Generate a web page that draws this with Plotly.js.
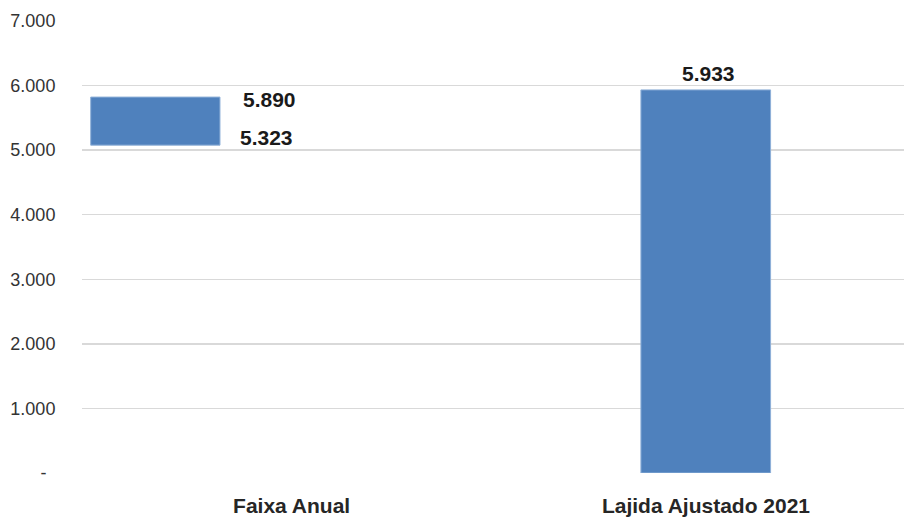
<!DOCTYPE html>
<html>
<head>
<meta charset="utf-8">
<script src="https://cdn.plot.ly/plotly-3.0.1.min.js"></script>
<style>html,body{margin:0;padding:0;background:#fff;}#chart{width:904px;height:517px;}</style>
</head>
<body>
<div id="chart"></div>
<script>
// Data
const categories = ["Faixa Anual", "Lajida Ajustado 2021"];
const faixaBase = [5077];      // floating bar bottom (as drawn)
const faixaTop = [5822];       // floating bar top (as drawn)
const faixaLabelHigh = [5890]; // label text
const faixaLabelLow = [5323];  // label text
const lajidaValues = [5933];
const yTickVals = [0, 1000, 2000, 3000, 4000, 5000, 6000, 7000];
const yTickText = ["-\u2002", "1.000", "2.000", "3.000", "4.000", "5.000", "6.000", "7.000"];

function fmt(v) { return v.toLocaleString("de-DE"); }

const barColor = "#4f81bd";
const lineStyle = {color: "#8fb0d8", width: 1};

const traces = [
  {
    type: "bar",
    x: [categories[0]],
    base: faixaBase,
    y: faixaTop.map((t, i) => t - faixaBase[i]),
    width: 0.312,
    offset: -0.485,
    marker: {color: barColor, line: lineStyle},
    hoverinfo: "skip",
    showlegend: false
  },
  {
    type: "bar",
    x: [categories[1]],
    y: lajidaValues,
    width: 0.313,
    offset: -0.157,
    marker: {color: barColor, line: lineStyle},
    hoverinfo: "skip",
    showlegend: false
  }
];

const labelFont = {family: "Liberation Sans, Arial, sans-serif", size: 21, color: "#1a1a1a", weight: "bold"};

const annotations = [
  {x: categories[0], y: faixaTop[0], xref: "x", yref: "y", text: "<b>" + fmt(faixaLabelHigh[0]) + "</b>",
   showarrow: false, xanchor: "left", yanchor: "middle", xshift: -51, yshift: -2.5, font: labelFont},
  {x: categories[0], y: faixaBase[0], xref: "x", yref: "y", text: "<b>" + fmt(faixaLabelLow[0]) + "</b>",
   showarrow: false, xanchor: "left", yanchor: "middle", xshift: -54, yshift: 7.5, font: labelFont},
  {x: categories[1], y: lajidaValues[0], xref: "x", yref: "y", text: "<b>" + fmt(lajidaValues[0]) + "</b>",
   showarrow: false, xanchor: "center", yanchor: "middle", xshift: 3, yshift: 16.5, font: labelFont}
];

const layout = {
  width: 904,
  height: 517,
  margin: {l: 82, r: 0, t: 21, b: 44, pad: 0},
  paper_bgcolor: "#ffffff",
  plot_bgcolor: "#ffffff",
  showlegend: false,
  barmode: "overlay",
  xaxis: {
    type: "category",
    categoryorder: "array",
    categoryarray: categories,
    range: [-0.506, 1.478],
    showgrid: false,
    zeroline: false,
    showline: false,
    ticks: "outside",
    ticklen: 14,
    tickcolor: "rgba(0,0,0,0)",
    tickfont: {family: "Liberation Sans, Arial, sans-serif", size: 21, color: "#262626", weight: "bold"},
    fixedrange: true
  },
  yaxis: {
    range: [0, 7000],
    tickvals: yTickVals,
    ticktext: yTickText,
    showgrid: true,
    gridcolor: "#d9d9d9",
    gridwidth: 1.3,
    zeroline: false,
    showline: false,
    ticks: "outside",
    ticklen: 22,
    tickcolor: "rgba(0,0,0,0)",
    tickfont: {family: "Liberation Sans, Arial, sans-serif", size: 18, color: "#333333"},
    fixedrange: true
  },
  annotations: annotations
};

Plotly.newPlot("chart", traces, layout, {displayModeBar: false, staticPlot: true});
</script>
</body>
</html>
